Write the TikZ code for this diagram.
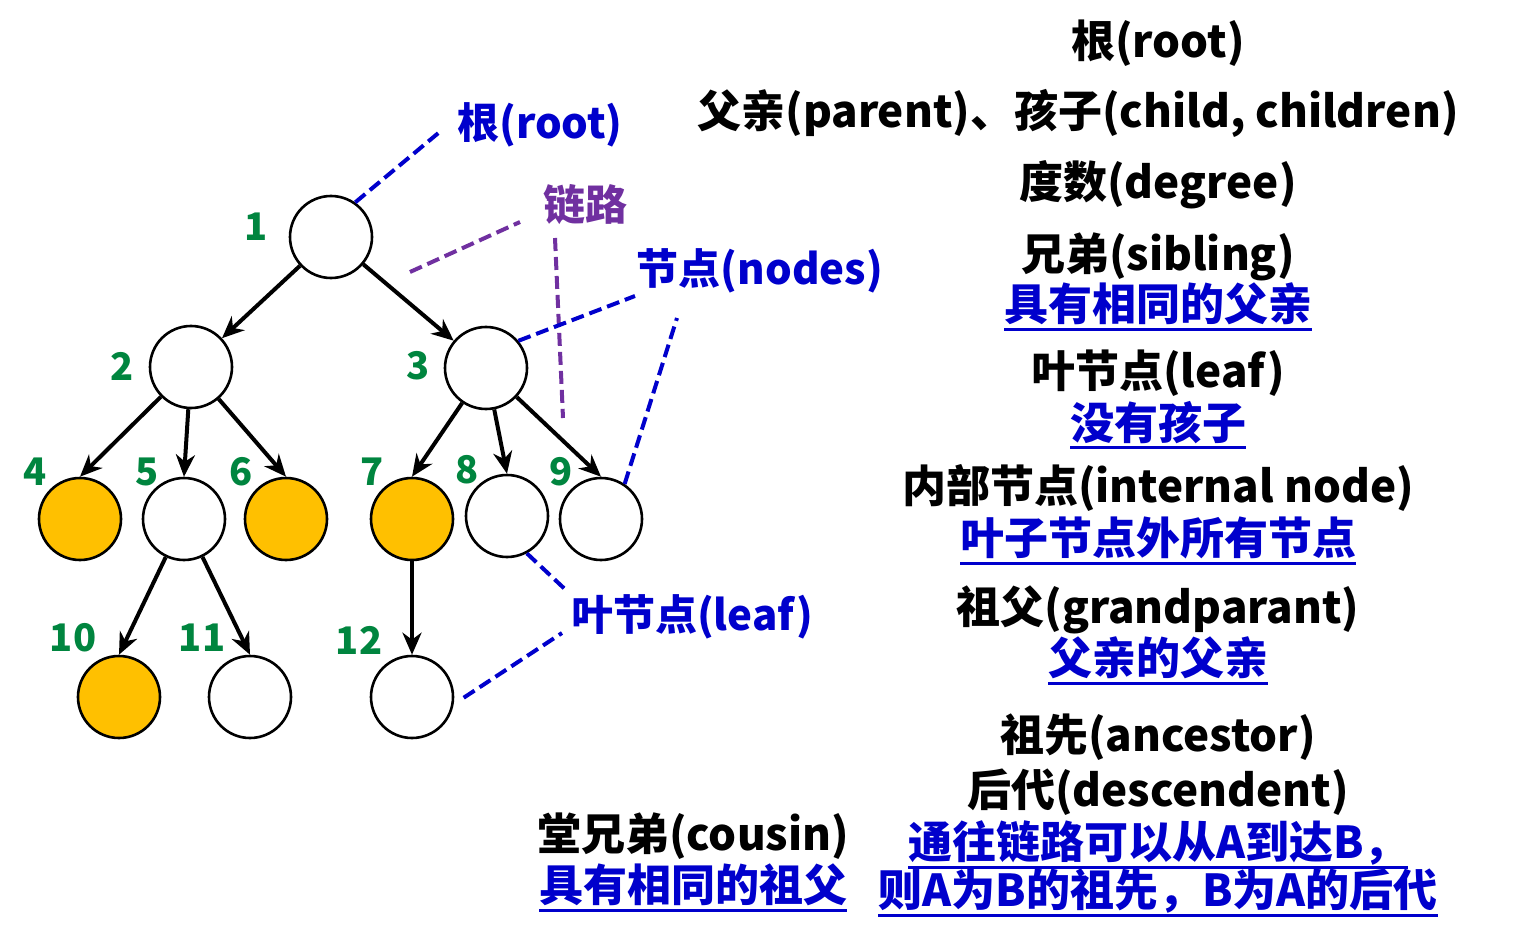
\documentclass[tikz,border=0pt]{standalone}
\usepackage{fontspec}
\setmainfont{Noto Sans CJK SC}
\usetikzlibrary{arrows.meta}
\definecolor{noteblue}{RGB}{0,0,204}
\definecolor{numgreen}{RGB}{0,133,63}
\definecolor{linkpurple}{RGB}{112,48,160}
\definecolor{leafgold}{RGB}{255,192,0}
% underlined blue note
\newcommand{\ulnote}[1]{\setbox0\hbox{#1}\rlap{\color{noteblue}\vrule width\wd0 height -7pt depth 10pt}\box0}

\begin{document}
\begin{tikzpicture}[x=1pt,y=-1pt,
	treenode/.style={circle,draw=black,line width=2.6pt,fill=white,minimum size=82pt,inner sep=0pt},
	leafnode/.style={treenode,fill=leafgold},
	numlabel/.style={text=numgreen,font=\fontsize{38}{40}\selectfont\bfseries,inner sep=0pt},
	term/.style={text=black,font=\fontsize{44}{48}\selectfont\bfseries,inner sep=0pt},
	note/.style={text=noteblue,font=\fontsize{44}{48}\selectfont\bfseries,inner sep=0pt},
	tag/.style={text=noteblue,font=\fontsize{42}{46}\selectfont\bfseries,inner sep=0pt},
	edge/.style={line width=4pt,-{Stealth[length=22pt,width=19pt,inset=7pt]}},
	bluedash/.style={draw=noteblue,line width=4pt,dash pattern=on 13pt off 6pt},
	purpledash/.style={draw=linkpurple,line width=4pt,dash pattern=on 13pt off 6pt}]
	\useasboundingbox[fill=white] (0,0) rectangle (1524,944);
	% tree
	\node[treenode] (n1) at (331,237) {};
	\node[treenode] (n2) at (191,367) {};
	\node[treenode] (n3) at (486,368) {};
	\node[leafnode] (n4) at (80,519) {};
	\node[treenode] (n5) at (184,519) {};
	\node[leafnode] (n6) at (286,519) {};
	\node[leafnode] (n7) at (412,519) {};
	\node[treenode] (n8) at (507,516) {};
	\node[treenode] (n9) at (601,519) {};
	\node[leafnode] (n10) at (119,697) {};
	\node[treenode] (n11) at (250,697) {};
	\node[treenode] (n12) at (412,697) {};
	\draw[edge] (n1) -- (n2);
	\draw[edge] (n1) -- (n3);
	\foreach \a/\b in {n2/n4,n2/n5,n2/n6,n3/n7,n3/n8,n3/n9,n5/n10,n5/n11,n7/n12}
		\draw[edge] (\a) -- (\b.north);
	% numbers
	\node[numlabel] (l1) at (256,227) {1};
	\node[numlabel] (l2) at (122,366) {2};
	\node[numlabel] (l3) at (418,366) {3};
	\node[numlabel] (l4) at (35,472) {4};
	\node[numlabel] (l5) at (147,472) {5};
	\node[numlabel] (l6) at (241,472) {6};
	\node[numlabel] (l7) at (372,472) {7};
	\node[numlabel] (l8) at (467,470) {8};
	\node[numlabel] (l9) at (561,472) {9};
	\node[numlabel] (l10) at (73,638) {10};
	\node[numlabel] (l11) at (202,638) {11};
	\node[numlabel] (l12) at (359,640) {12};
	% callouts
	\node[tag] (root) at (540,125) {根(root)};
	\node[tag,text=linkpurple] (link) at (585,205) {链路};
	\node[tag] (nodes) at (760,271) {节点(nodes)};
	\node[tag] (leaf) at (692,617) {叶节点(leaf)};
	\coordinate (cr) at (442,130);
	\coordinate (ka) at (410,272);
	\coordinate (kb) at (520,222);
	\coordinate (kc) at (555,238);
	\coordinate (kd) at (563,418);
	\coordinate (na) at (635,296);
	\coordinate (nb) at (677,318);
	\coordinate (fa) at (568,592);
	\coordinate (fb) at (562,633);
	\draw[bluedash] (n1.55) -- (cr);
	\draw[purpledash] (ka) -- (kb);
	\draw[purpledash] (kc) -- (kd);
	\draw[bluedash] (n3.40) -- (na);
	\draw[bluedash] (n9.56) -- (nb);
	\draw[bluedash] (n8.-62) -- (fa);
	\draw[bluedash,shorten <=12pt] (n12.-10) -- (fb);
	% terms
	\node[term] (t1) at (1158,43) {根(root)};
	\node[term] (t2) at (1078,113) {父亲(parent)、孩子(child, children)};
	\node[term] (t3) at (1158,185) {度数(degree)};
	\node[term] (t4) at (1158,257) {兄弟(sibling)};
	\node[note] (d4) at (1158,307) {\ulnote{具有相同的父亲}};
	\node[term] (t5) at (1158,373) {叶节点(leaf)};
	\node[note] (d5) at (1158,425) {\ulnote{没有孩子}};
	\node[term] (t6) at (1158,488) {内部节点(internal node)};
	\node[note] (d6) at (1158,541) {\ulnote{叶子节点外所有节点}};
	\node[term] (t7) at (1158,610) {祖父(grandparant)};
	\node[note] (d7) at (1158,661) {\ulnote{父亲的父亲}};
	\node[term] (t8) at (1158,737) {祖先(ancestor)};
	\node[term] (t9) at (1158,792) {后代(descendent)};
	\node[note] (d9) at (1158,845) {\ulnote{通往链路可以从A到达B，}};
	\node[note] (e9) at (1158,893) {\ulnote{则A为B的祖先，B为A的后代}};
	\node[term] (t10) at (693,836) {堂兄弟(cousin)};
	\node[note] (d10) at (693,888) {\ulnote{具有相同的祖父}};
\end{tikzpicture}
\end{document}
